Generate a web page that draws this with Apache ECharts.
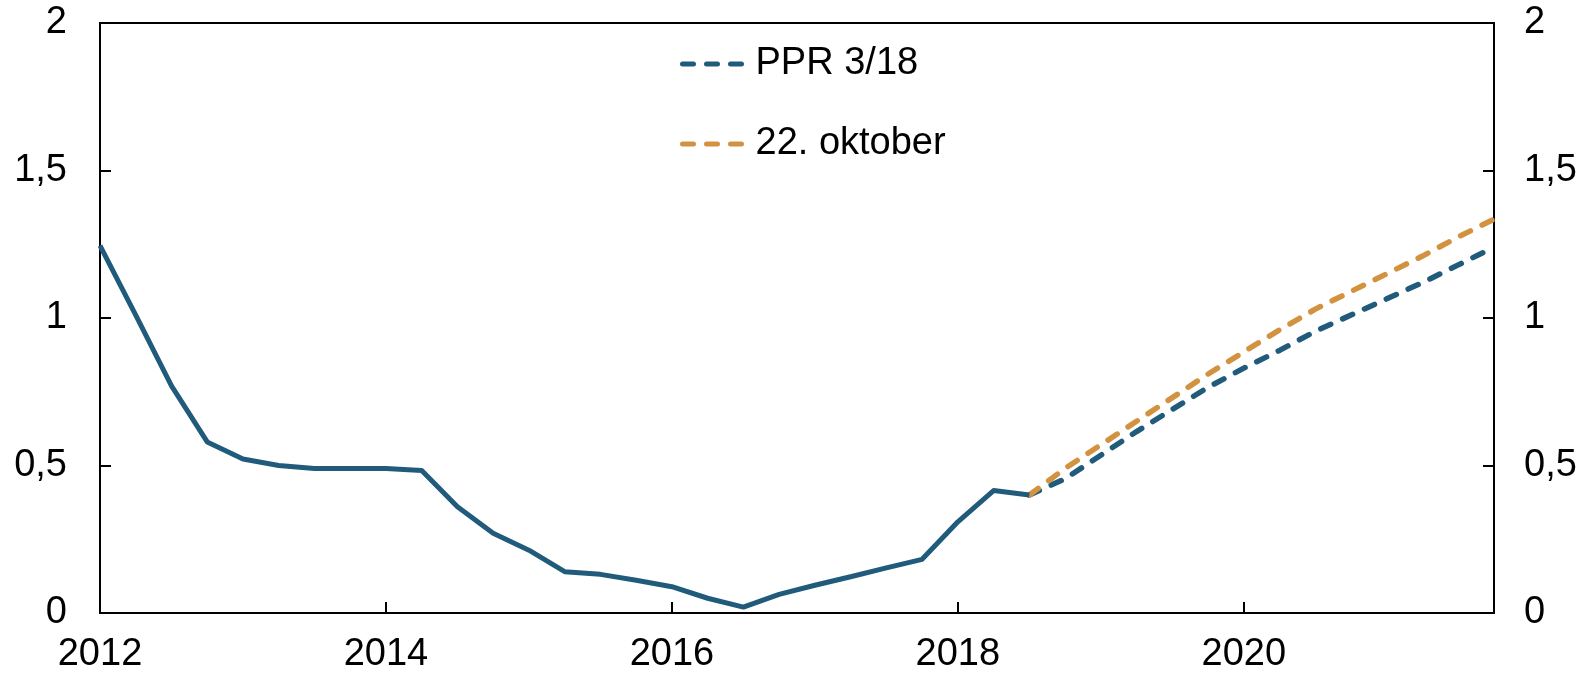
<!DOCTYPE html>
<html>
<head>
<meta charset="utf-8">
<script src="https://cdn.jsdelivr.net/npm/echarts@6/dist/echarts.min.js"></script>
<style>
html,body{margin:0;padding:0;background:#fff;}
#chart{width:1587px;height:675px;}
</style>
</head>
<body>
<div id="chart"></div>
<script>
// Quarterly categories 2012Q1 .. 2021Q4
const categories = [];
for (let y = 2012; y <= 2021; y++) { for (let q = 1; q <= 4; q++) categories.push(y + 'Q' + q); }

// Historical (solid) 2012Q1 .. 2018Q3
const historical = [1.245, 1.01, 0.77, 0.58, 0.522, 0.50, 0.49, 0.49, 0.49, 0.483,
  0.36, 0.27, 0.213, 0.14, 0.131, 0.111, 0.089, 0.05, 0.02, 0.063,
  0.094, 0.123, 0.153, 0.182, 0.309, 0.415, 0.40];

// Projections from 2018Q3 .. 2021Q4
const ppr318 = [0.40, 0.455, 0.535, 0.615, 0.69, 0.765, 0.83, 0.89, 0.955, 1.01, 1.065, 1.12, 1.18, 1.24];
const oct22 = [0.40, 0.49, 0.57, 0.65, 0.73, 0.81, 0.885, 0.96, 1.03, 1.09, 1.15, 1.21, 1.275, 1.335];

const yTicks = [0, 0.5, 1, 1.5, 2];
const projStart = historical.length - 1;

function pad(arr, start) {
  const out = new Array(categories.length).fill(null);
  arr.forEach((v, i) => { out[start + i] = v; });
  return out;
}

const BLUE = '#215b7c';
const ORANGE = '#d3923f';
const FONT = 'Liberation Sans, Arial, sans-serif';
const FS = 38;

const chart = echarts.init(document.getElementById('chart'), null, {renderer: 'canvas'});

const yAxisBase = (pos) => ({
  type: 'value', position: pos, min: yTicks[0], max: yTicks[yTicks.length - 1], interval: 0.5,
  axisLine: {show: true, lineStyle: {color: '#000', width: 2}},
  axisTick: {show: true, inside: true, length: 11, lineStyle: {color: '#000', width: 2}},
  splitLine: {show: false},
  axisLabel: {
    color: '#000', fontFamily: FONT, fontSize: FS, margin: pos === 'left' ? 33 : 30,
    formatter: v => String(v).replace('.', ',')
  }
});

chart.setOption({
  animation: false,
  backgroundColor: '#fff',
  grid: {left: 100, right: 93, top: 23, bottom: 62, show: true, borderColor: '#000', borderWidth: 2},
  legend: {
    show: true, orient: 'vertical', left: 680, top: 45, itemGap: 42, padding: 0,
    itemWidth: 62, itemHeight: 14,
    data: ['PPR 3/18', '22. oktober'],
    itemStyle: {opacity: 0},
    lineStyle: {width: 5, cap: 'round'},
    textStyle: {color: '#000', fontFamily: FONT, fontSize: FS, padding: [0, 0, 0, 6]}
  },
  xAxis: {
    type: 'category', data: categories, boundaryGap: false,
    axisLine: {show: true, lineStyle: {color: '#000', width: 2}},
    axisTick: {show: true, inside: true, length: 11, alignWithLabel: true,
      interval: (i) => i % 8 === 0, lineStyle: {color: '#000', width: 2}},
    axisLabel: {color: '#000', fontFamily: FONT, fontSize: FS, margin: 23,
      interval: (i) => i % 8 === 0, formatter: v => v.slice(0, 4)},
    splitLine: {show: false}
  },
  yAxis: [yAxisBase('left'), yAxisBase('right')],
  series: [
    {name: 'Historisk', type: 'line', data: pad(historical, 0), symbol: 'none',
      lineStyle: {color: BLUE, width: 5, join: 'round'}, itemStyle: {color: BLUE}, z: 3},
    {name: 'PPR 3/18', type: 'line', data: pad(ppr318, projStart), symbol: 'none',
      lineStyle: {color: BLUE, width: 5.5, type: [11, 13], cap: 'round'}, itemStyle: {color: BLUE}, z: 2},
    {name: '22. oktober', type: 'line', data: pad(oct22, projStart), symbol: 'none',
      lineStyle: {color: ORANGE, width: 5.5, type: [11, 13], cap: 'round'}, itemStyle: {color: ORANGE}, z: 2}
  ]
});
</script>
</body>
</html>
